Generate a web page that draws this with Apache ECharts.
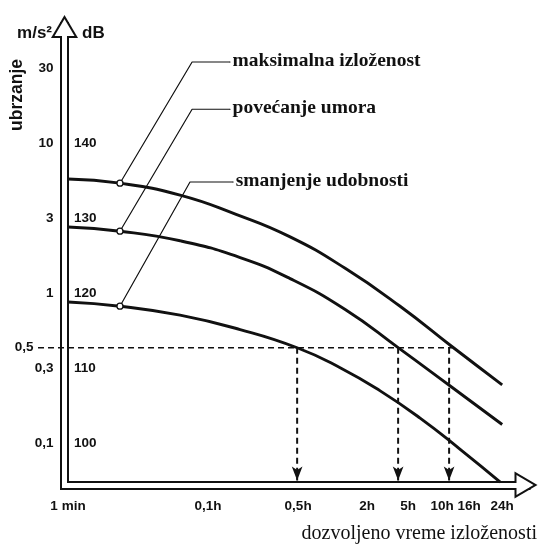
<!DOCTYPE html>
<html><head><meta charset="utf-8">
<script src="https://cdn.jsdelivr.net/npm/echarts@6/dist/echarts.min.js"></script>
<style>html,body{margin:0;padding:0;background:#fff}#c{width:540px;height:545px}</style>
</head><body><div id="c"></div>
<script>
// ---- data (x: position on the drawing's logarithmic time scale, y: level in dB) ----
const seriesNames = ['maksimalna izloženost', 'povećanje umora', 'smanjenje udobnosti'];
const curveMax = [[0,135.2],[0.371,134.64],[0.8,133.04],[1.2,130.48],[1.586,127.48],[1.979,123.29],[2.371,118.23],[2.743,112.83],[3.1,107.76]];
const curveFatigue = [[0,128.8],[0.371,128.24],[0.8,126.96],[1.229,124.72],[1.586,121.92],[1.979,117.81],[2.357,112.72],[2.729,107.6],[3.1,102.47]];
const curveComfort = [[0,118.8],[0.371,118.24],[0.8,117.04],[1.229,115.12],[1.636,112.7],[1.943,110.04],[2.229,106.95],[2.514,103.32],[2.8,99.16],[3.086,94.79]];
const leaderMax = [[0.371,134.64],[0.886,150.8],[1.157,150.8]];
const leaderFatigue = [[0.371,128.24],[0.886,144.5],[1.157,144.5]];
const leaderComfort = [[0.371,118.24],[0.871,134.8],[1.179,134.8]];
const xTickValues = [0, 1.0, 1.643, 2.136, 2.429, 2.671, 2.864, 3.1];
const xTickLabels = ['1 min', '0,1h', '0,5h', '2h', '5h', '10h', '16h', '24h'];
const accelValues = [150, 140, 130, 120, 112.7, 110, 100];
const accelLabels = ['30', '10', '3', '1', '0,5', '0,3', '0,1'];
const dbValues = [140, 130, 120, 110, 100];
const thresholdDb = 112.7;              // 0,5 m/s²
const thresholdEnd = 2.743;             // where the dashed level meets the top curve
const thresholdTimes = [1.636, 2.357, 2.721];
const arrowEndDb = 95.0;

const X_MIN = -0.025, X_MAX = 3.27, Y_MIN = 94.4, Y_MAX = 155.53;
const GUIDE_X_MIN = -0.214;             // the 0,5 guide starts left of the axis
const PX_PER_X = 461.5 / (X_MAX - X_MIN);
const INK = '#111';
const SANS = '"Liberation Sans", Arial, sans-serif';
const SERIF = '"Liberation Serif", "Times New Roman", serif';
const blackArrow = 'path://M13.5,0L27,23L0,23Z';
const whiteArrow = 'path://M10,0L20,17L0,17Z';

function lookup(vals, labels, v) {
  for (let i = 0; i < vals.length; i++) if (Math.abs(vals[i] - v) < 1e-6) return labels[i];
  return '';
}
const tickFont = { fontFamily: SANS, fontWeight: 'bold', fontSize: 13.5, color: INK };
const off = { show: false };
function baseAxis(extra) {
  return Object.assign({ type: 'value', axisTick: off, splitLine: off }, extra);
}

const xAxis = [
  baseAxis({ gridIndex: 0, min: X_MIN, max: X_MAX, position: 'bottom', z: 1,
    axisLine: { show: true, onZero: false, symbol: ['none', blackArrow], symbolSize: [27, 23],
      lineStyle: { color: INK, width: 9, cap: 'square' } },
    axisLabel: Object.assign({ customValues: xTickValues, margin: 14,
      formatter: v => lookup(xTickValues, xTickLabels, v) }, tickFont) }),
  baseAxis({ gridIndex: 0, min: X_MIN, max: X_MAX, position: 'bottom', z: 2,
    axisLine: { show: true, onZero: false, symbol: ['none', whiteArrow], symbolSize: [20, 17], symbolOffset: [0, -1],
      lineStyle: { color: '#fff', width: 5, cap: 'square' } },
    axisLabel: off }),
  baseAxis({ gridIndex: 1, min: GUIDE_X_MIN, max: X_MAX, position: 'bottom', axisLine: off, axisLabel: off })
];
const yAxis = [
  baseAxis({ gridIndex: 0, min: Y_MIN, max: Y_MAX, position: 'left', z: 1,
    axisLine: { show: true, onZero: false, symbol: ['none', blackArrow], symbolSize: [27, 23],
      lineStyle: { color: INK, width: 9, cap: 'square' } },
    axisLabel: Object.assign({ customValues: accelValues, margin: 11,
      formatter: v => { const t = lookup(accelValues, accelLabels, v); return Math.abs(v - thresholdDb) < 1e-6 ? '{s|' + t + '}' : t; },
      rich: { s: Object.assign({ padding: [0, 20, 0, 0] }, tickFont) } }, tickFont) }),
  baseAxis({ gridIndex: 0, min: Y_MIN, max: Y_MAX, position: 'left', z: 1,
    axisLine: { show: false, onZero: false },
    axisLabel: Object.assign({ customValues: dbValues, inside: true, margin: 9.5,
      formatter: v => String(v) }, tickFont) }),
  baseAxis({ gridIndex: 0, min: Y_MIN, max: Y_MAX, position: 'left', z: 2,
    axisLine: { show: true, onZero: false, symbol: ['none', whiteArrow], symbolSize: [20, 17], symbolOffset: [0, -1],
      lineStyle: { color: '#fff', width: 5, cap: 'square' } },
    axisLabel: off }),
  baseAxis({ gridIndex: 1, min: Y_MIN, max: Y_MAX, position: 'left', axisLine: off, axisLabel: off })
];

const series = [];
[curveMax, curveFatigue, curveComfort].forEach((d, i) => {
  series.push({ type: 'line', name: seriesNames[i], data: d, smooth: 0.5, showSymbol: false, z: 4,
    lineStyle: { color: INK, width: 2.9 } });
});
[leaderMax, leaderFatigue, leaderComfort].forEach((d, i) => {
  const items = d.map((p, k) => {
    if (k === 0) return { value: p, symbol: 'circle', symbolSize: 6,
      itemStyle: { color: '#fff', borderColor: INK, borderWidth: 1.3 } };
    if (k === d.length - 1) return { value: p, symbol: 'circle', symbolSize: 1, itemStyle: { color: INK },
      label: { show: true, position: 'right', distance: 2, formatter: seriesNames[i],
        fontFamily: SERIF, fontWeight: 'bold', fontSize: 19.5, color: INK, offset: [0, -1.5] } };
    return { value: p, symbol: 'none' };
  });
  series.push({ type: 'line', name: 'leader' + i, data: items, showSymbol: true, z: 6,
    lineStyle: { color: INK, width: 1.2 } });
});
series.push({ type: 'line', name: 'threshold', xAxisIndex: 2, yAxisIndex: 3, showSymbol: false, z: 3,
  data: [[GUIDE_X_MIN, thresholdDb], [thresholdEnd, thresholdDb]],
  lineStyle: { color: INK, width: 1.4, type: [6, 4] } });
thresholdTimes.forEach((t, i) => {
  series.push({ type: 'line', name: 'arrow' + i, showSymbol: true, z: 3,
    data: [{ value: [t, thresholdDb], symbol: 'none' },
           { value: [t, arrowEndDb], symbol: 'arrow', symbolSize: [8, 14], symbolRotate: 180, itemStyle: { color: INK } }],
    lineStyle: { color: INK, width: 2, type: [6, 4] } });
});

const chart = echarts.init(document.getElementById('c'), null, { renderer: 'canvas' });
chart.setOption({
  animation: false,
  backgroundColor: '#fff',
  grid: [
    { left: 64.5, right: 14, top: 26.5, bottom: 60, containLabel: false },
    { left: 64.5 + (GUIDE_X_MIN - X_MIN) * PX_PER_X, right: 14, top: 26.5, bottom: 60, containLabel: false }
  ],
  xAxis, yAxis, series,
  graphic: [
    { type: 'text', x: 52, y: 33, style: { text: 'm/s²', align: 'right', verticalAlign: 'middle', font: 'bold 17px ' + SANS, fill: INK } },
    { type: 'text', x: 82, y: 33, style: { text: 'dB', align: 'left', verticalAlign: 'middle', font: 'bold 17px ' + SANS, fill: INK } },
    { type: 'text', x: 17.5, y: 95, rotation: Math.PI / 2, style: { text: 'ubrzanje', align: 'center', verticalAlign: 'middle', font: 'bold 17.5px ' + SANS, fill: INK } },
    { type: 'text', x: 537, y: 534, style: { text: 'dozvoljeno vreme izloženosti', align: 'right', verticalAlign: 'middle', font: '20px ' + SERIF, fill: INK } }
  ]
});
</script></body></html>
